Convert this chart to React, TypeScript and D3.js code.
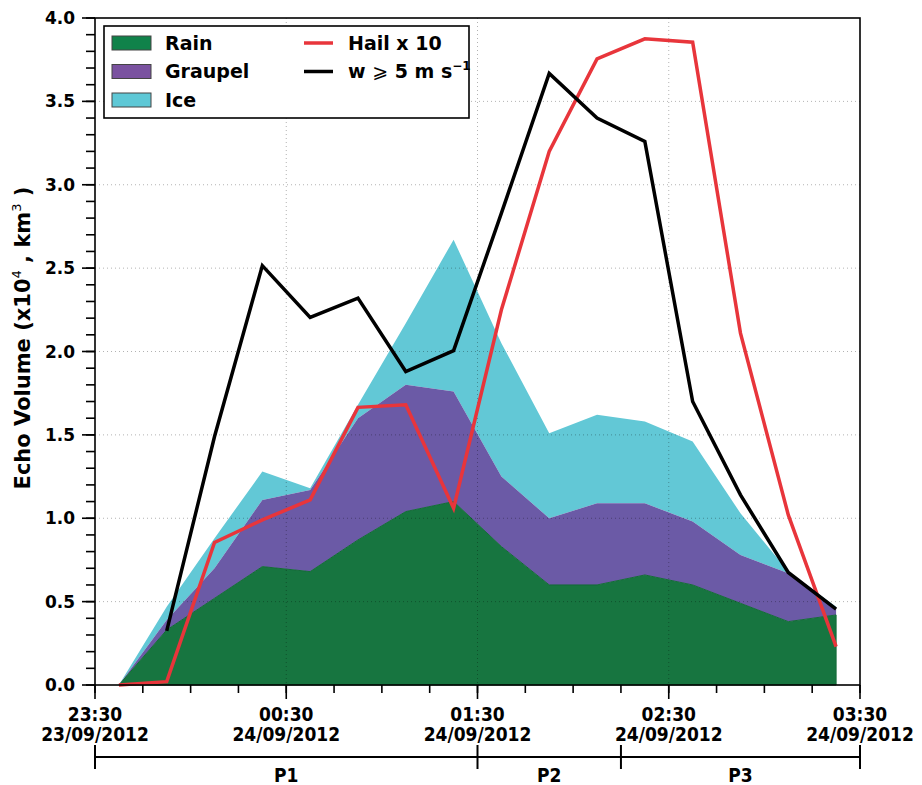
import React from 'react';
import * as d3 from 'd3';

// sample times (15 min apart), hh:mm:ss; hours before noon belong to 24/09
const times = ['23:37:30', '23:52:30', '00:07:30', '00:22:30', '00:37:30', '00:52:30', '01:07:30', '01:22:30',
    '01:37:30', '01:52:30', '02:07:30', '02:22:30', '02:37:30', '02:52:30', '03:07:30', '03:22:30'];
const rain = [0, 0.33, 0.52, 0.71, 0.68, 0.87, 1.04, 1.1, 0.83, 0.6, 0.6, 0.66, 0.6, 0.49, 0.38, 0.42];
const graupel = [0, 0.06, 0.18, 0.4, 0.49, 0.73, 0.76, 0.66, 0.42, 0.4, 0.49, 0.43, 0.38, 0.29, 0.29, 0.04];
const ice = [0, 0.08, 0.18, 0.17, 0.01, 0.08, 0.37, 0.91, 0.8, 0.51, 0.53, 0.49, 0.48, 0.25, 0.01, 0.01];
const hailX10 = [0, 0.02, 0.855, 0.99, 1.11, 1.665, 1.68, 1.06, 2.25, 3.2, 3.755, 3.875, 3.855, 2.11, 1.02, 0.23];
const updraft = [null, 0.325, 1.49, 2.515, 2.205, 2.32, 1.88, 2.005, 2.83, 3.668, 3.4, 3.26, 1.7, 1.14, 0.675, 0.455];
const periods = [
    { name: 'P1', from: '23:30', to: '01:30' },
    { name: 'P2', from: '01:30', to: '02:15' },
    { name: 'P3', from: '02:15', to: '03:30' },
];

const parseT = (s: string) => {
    const [h, m, sec] = s.split(':').map(Number);
    return h >= 12 ? new Date(2012, 8, 23, h, m, sec || 0) : new Date(2012, 8, 24, h, m, sec || 0);
};

const W = 922;
const H = 785;
const left = 95;
const right = 860;
const top = 18;
const bottom = 685;
const FONT = '"DejaVu Sans", sans-serif';
const COND = '"DejaVu Sans Condensed", "DejaVu Sans", sans-serif';

const App = () => {
    const x = d3.scaleTime().domain([parseT('23:30'), parseT('03:30')]).range([left, right]);
    const y = d3.scaleLinear().domain([0, 4]).range([bottom, top]);

    const rows = times.map((t, i) => ({
        t: parseT(t),
        r: rain[i],
        rg: rain[i] + graupel[i],
        tot: rain[i] + graupel[i] + ice[i],
    }));

    const area = (lo: (d: any) => number, hi: (d: any) => number) =>
        d3.area<any>().x(d => x(d.t)).y0(d => y(lo(d))).y1(d => y(hi(d)))(rows) || '';

    const line = (vals: (number | null)[]) =>
        d3.line<any>()
            .defined(d => d.v != null)
            .x(d => x(d.t))
            .y(d => y(d.v))(times.map((t, i) => ({ t: parseT(t), v: vals[i] }))) || '';

    const hourTicks = d3.range(0, 5).map(i => d3.timeMinute.offset(parseT('23:30'), i * 60));
    const minorX = d3.range(0, 17).map(i => d3.timeMinute.offset(parseT('23:30'), i * 15));
    const yMajor = d3.range(0, 4.01, 0.5);
    const yMinor = d3.range(0, 4.01, 0.1);
    const fmt = d3.timeFormat('%H:%M');
    const fmtD = d3.timeFormat('%d/%m/%Y');

    const colors = { rain: '#177540', graupel: '#6b5aa6', ice: '#62c8d6', hail: '#e8353b' };

    return (
        <svg width={W} height={H} style={{ position: 'absolute', left: 0, top: 0 }} fontFamily={FONT}>
            <path d={area(d => d.rg, d => d.tot)} fill={colors.ice} />
            <path d={area(d => d.r, d => d.rg)} fill={colors.graupel} />
            <path d={area(() => 0, d => d.r)} fill={colors.rain} stroke="#146a38" strokeWidth={1} />

            {/* grid */}
            {yMajor.slice(1, -1).map(v => (
                <line key={'gy' + v} x1={left} x2={right} y1={y(v)} y2={y(v)}
                    stroke="#000" strokeOpacity={0.3} strokeDasharray="1,3" />
            ))}
            {hourTicks.slice(1, -1).map(t => (
                <line key={'gx' + t.getTime()} x1={x(t)} x2={x(t)} y1={top} y2={bottom}
                    stroke="#000" strokeOpacity={0.3} strokeDasharray="1,3" />
            ))}

            <path d={line(hailX10)} fill="none" stroke={colors.hail} strokeWidth={3.5} />
            <path d={line(updraft)} fill="none" stroke="#000" strokeWidth={3.5} />

            {/* frame */}
            <rect x={left} y={top} width={right - left} height={bottom - top} fill="none" stroke="#000" strokeWidth={1.6} />

            {/* y axis */}
            {yMinor.map(v => (
                <line key={'ym' + v} x1={left - 9} x2={left} y1={y(v)} y2={y(v)} stroke="#000" strokeWidth={1.6} />
            ))}
            {yMajor.map(v => (
                <g key={'yM' + v}>
                    <line x1={left - 13} x2={left} y1={y(v)} y2={y(v)} stroke="#000" strokeWidth={1.6} />
                    <text x={left - 20} y={y(v)} dy="0.36em" textAnchor="end" fontSize={17} fontWeight="bold">
                        {v.toFixed(1)}
                    </text>
                </g>
            ))}
            <text transform={`translate(30,338) rotate(-90)`} textAnchor="middle"
                fontSize={21} fontWeight="bold">
                Echo Volume (x10<tspan fontSize={13} fontWeight="normal" dy={-9}>4</tspan>
                <tspan dy={9}> , km</tspan>
                <tspan fontSize={13} fontWeight="normal" dy={-9}>3</tspan>
                <tspan dy={9}> )</tspan>
            </text>

            {/* x axis */}
            {minorX.map(t => (
                <line key={'xm' + t.getTime()} x1={x(t)} x2={x(t)} y1={bottom} y2={bottom + 8} stroke="#000" strokeWidth={1.6} />
            ))}
            {hourTicks.map(t => (
                <g key={'xM' + t.getTime()}>
                    <line x1={x(t)} x2={x(t)} y1={bottom} y2={bottom + 14} stroke="#000" strokeWidth={1.6} />
                    <text x={x(t)} y={721} textAnchor="middle" fontSize={19} fontWeight="bold" fontFamily={COND}>
                        {fmt(t)}
                    </text>
                    <text x={x(t)} y={741} textAnchor="middle" fontSize={19} fontWeight="bold" fontFamily={COND}>
                        {fmtD(t)}
                    </text>
                </g>
            ))}

            {/* periods */}
            <line x1={x(parseT(periods[0].from))} x2={x(parseT(periods[2].to))} y1={757} y2={757} stroke="#000" strokeWidth={2} />
            {periods.map(p => (
                <g key={p.name}>
                    <line x1={x(parseT(p.from))} x2={x(parseT(p.from))} y1={745} y2={769} stroke="#000" strokeWidth={2} />
                    <text x={(x(parseT(p.from)) + x(parseT(p.to))) / 2} y={782} textAnchor="middle" fontSize={19}
                        fontWeight="bold" fontFamily={COND}>{p.name}</text>
                </g>
            ))}
            <line x1={x(parseT('03:30'))} x2={x(parseT('03:30'))} y1={745} y2={769} stroke="#000" strokeWidth={2} />

            {/* legend */}
            <rect x={104} y={26} width={365} height={92} fill="#fff" stroke="#000" strokeWidth={1.6} />
            {[
                { label: 'Rain', c: '#10824a' },
                { label: 'Graupel', c: '#7a52a0' },
                { label: 'Ice', c: '#5ec8d6' },
            ].map((d, i) => (
                <g key={d.label} transform={`translate(0,${43 + i * 28.5})`}>
                    <rect x={112} y={-7} width={39} height={14} fill={d.c} stroke="#444" strokeWidth={1} />
                    <text x={165} y={0} dy="0.36em" fontSize={19} fontWeight="bold">{d.label}</text>
                </g>
            ))}
            <line x1={304} x2={333} y1={43} y2={43} stroke={colors.hail} strokeWidth={3.5} />
            <text x={348} y={43} dy="0.36em" fontSize={19} fontWeight="bold">Hail x 10</text>
            <line x1={304} x2={333} y1={71.5} y2={71.5} stroke="#000" strokeWidth={3.5} />
            <text x={348} y={71.5} dy="0.36em" fontSize={19} fontWeight="bold">
                w <tspan fontWeight="normal">⩾</tspan> 5 m s<tspan fontSize={12} dy={-8}>−1</tspan>
            </text>
        </svg>
    );
};

export default App;
